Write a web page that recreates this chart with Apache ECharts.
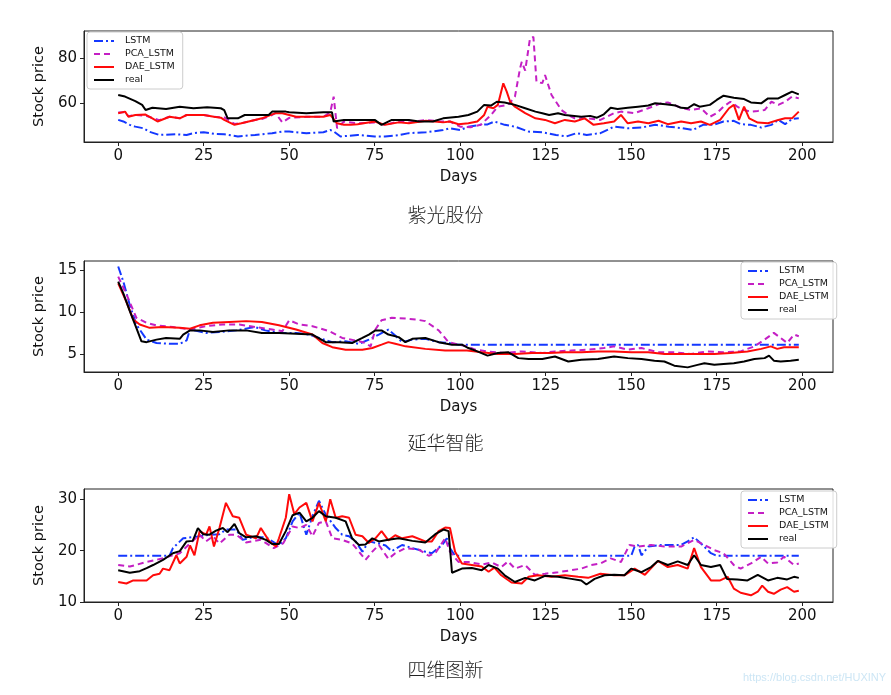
<!DOCTYPE html>
<html>
<head>
<meta charset="utf-8">
<title>Stock price</title>
<script src="https://cdn.jsdelivr.net/npm/echarts@6/dist/echarts.min.js"></script>
<style>
    html, body { margin: 0; padding: 0; background: #fff; }
    #chart { width: 891px; height: 695px; }
</style>
</head>
<body>
<div id="chart"></div>
<script>
// series names and panel captions
var seriesNames = ['LSTM', 'PCA_LSTM', 'DAE_LSTM', 'real']
var captions = ['紫光股份', '延华智能', '四维图新']
var dayTicks = [0, 25, 50, 75, 100, 125, 150, 175, 200]
var priceTicks = [[60, 80], [5, 10, 15], [10, 20, 30]]

// 紫光股份 [day, price]
var zgLstm = [[0,52.6],[1.5,51.9],[3.4,50.4],[5,49.6],[7.3,48.9],[9,47.4],[12,45.9],[17,46.2],[20,45.9],[22,46.7],[25,47.1],[28,46.4],[31,46.2],[35,45.2],[40,45.9],[45,46.7],[48,47.4],[50,47.4],[55,46.7],[60,47.1],[62,48.1],[63,47.5],[65,45.2],[70,45.9],[75,45.2],[78,45.2],[82,45.8],[85,46.7],[90,47.1],[95,48.1],[97,48.9],[100,48.1],[102.4,49.6],[106,50.4],[108,50.6],[110,51.9],[113,50.4],[116,49.6],[120,47.4],[124,47.1],[128,45.9],[131,45.2],[134,46.7],[137,45.9],[141,46.7],[145,49.6],[149,48.9],[153,49.2],[157,50.4],[161,49.6],[165,48.9],[168,48.1],[171,50.4],[174,50.4],[177,51.9],[180,52.2],[182,50.7],[185,50.4],[188,49.2],[191,50.4],[193,52.6],[195,50.7],[197,53],[199,53.3]]
var zgPca = [[0,55.9],[2,56],[3,54.2],[5,54.8],[8,54.5],[10,53.5],[12,52.5],[15,54],[18,53.3],[20,54.8],[25,54.8],[28,54],[31,53.7],[34,50.8],[36,51.1],[40,52.6],[42,53],[45,54.8],[46,55.6],[48,51.5],[50,53.5],[55,54],[60,54],[62,56],[63,63],[64,48.9],[66,51.9],[70,51.1],[75,51.5],[78,50.4],[82,51.9],[85,51.5],[90,52.6],[94,51.9],[97,51.9],[100,49.6],[103,49.3],[106,50.4],[109,54.8],[111,58.5],[114,59.3],[116,63],[117.5,75.6],[118,78.5],[119,74.6],[120.4,88.9],[121.4,89.6],[122.3,69.6],[124,69],[124.8,72.6],[126.7,63.7],[129.6,57],[131.6,54.8],[133.5,53.3],[137.4,53.3],[141,52.6],[145,55.6],[147,56.3],[151,55.6],[155,57.8],[158.7,60],[160.7,60.4],[164.6,58],[167.5,57],[170.4,57.8],[173,54],[175,55.6],[177,58.5],[179,60.7],[181,58.5],[183,57],[185,56.3],[187,56.6],[189,57],[191,60.7],[193,59.3],[195,60.7],[197,63],[199,62.2]]
var zgDae = [[0,55.6],[2,56.3],[3,54],[5,54.8],[8,55],[10,53.3],[11.5,51.9],[15,54],[18,53.3],[20,54.8],[25,54.8],[28,54],[30,53.6],[31,52.6],[34,50.4],[36,51.1],[40,52.6],[42,53.3],[46,55.6],[48,55.6],[50,54.8],[52,54],[55,54],[60,54],[62,54.8],[64,51.1],[66,50.4],[68,50.4],[70,50.7],[75,51.9],[78,50.4],[82,51.5],[85,51.1],[90,52.2],[95,51.5],[97,51.9],[99.5,50.7],[102.4,51.1],[105,51.9],[107,54.8],[108,58.5],[109.7,57.8],[111,59.3],[112.6,68.9],[113.6,65.2],[114.6,60.7],[116,58.5],[119,55.6],[122,53.3],[124.8,52.6],[127.7,51.1],[130.6,52.6],[133.5,51.9],[136.4,53.3],[139,50.4],[142,51.1],[145,51.9],[147,54.8],[149,51.1],[152,51.9],[155,51.1],[158,52.2],[160.7,50.7],[164.6,51.9],[167.5,51.1],[170.4,51.9],[173,50.4],[176,52.6],[178.6,57.8],[180,59.3],[181.5,52.6],[183,58.5],[184.5,53.3],[187,51.4],[190,51.1],[193,52.6],[195,53.3],[197,53.3],[199,56.3]]
var zgReal = [[0,63.7],[2,63],[5,61],[7,59.3],[8,57],[10,58],[14,57.5],[18,58.5],[22,57.8],[26,58.2],[30,57.8],[31,57],[32,53.3],[35,53.3],[37,54.8],[44,54.8],[45,56.3],[49,56.3],[50,56],[55,55.6],[60,56],[62.5,56],[63,51.9],[66,52.6],[70,52.6],[75,52.6],[77,50.4],[80,52.6],[85,52.6],[88,51.9],[92,51.9],[95,53.3],[99.5,54],[102.4,54.8],[105,56.3],[107,59.3],[109,59],[110.7,60.7],[113,60.4],[116,59.3],[119,57.8],[122,56.3],[124,55.6],[126,54.8],[128.6,55.6],[130.6,54.8],[135.4,54],[138,54.4],[140,53.6],[142,55.1],[144,58],[146,57.5],[149,58],[152,58.5],[155,59],[157,60],[160,59.6],[163,59],[164.6,58],[166.5,57.8],[168.4,59.6],[170,58.5],[173,59.3],[175,61.5],[177,63.4],[180,62.5],[183,61.9],[185,60.4],[188,60],[190,62.2],[193,62.2],[195,63.7],[197,65.2],[199,64]]

// 延华智能 [day, price]
var yhLstm = [[0,15.4],[1.5,13.6],[3.4,10.8],[5.3,8.5],[8.3,6.7],[11.2,6.3],[15,6.2],[18,6.2],[20,6.6],[21,7.9],[25.7,7.5],[29.6,7.6],[34.5,7.8],[40,8.2],[43,7.8],[47,7.5],[52,7.5],[55.8,7.3],[58.7,6.9],[62.6,6.4],[66.5,6.5],[70.4,6.2],[73.3,6.7],[76.2,7.3],[79,7.9],[81,7.2],[83,6.4],[86,6.7],[89.8,6.8],[93.7,6.4],[96.6,6.3],[99.5,6.1],[150,6.1],[199,6.1]]
var yhPca = [[0,14.2],[2.4,12.1],[5.3,9.3],[8.3,8.7],[11.2,8.4],[16,8.2],[21,7.9],[25.7,8.3],[30.6,8.5],[35.4,8.5],[40,8.2],[45,7.9],[48,7.7],[50,9.0],[53,8.5],[56.8,8.3],[61.7,7.7],[65.5,6.9],[69.4,6.6],[72.3,6.3],[73.8,5.9],[75.2,7.9],[77,9.0],[80,9.3],[84,9.2],[87,9.1],[89.8,8.9],[93.7,7.8],[96.6,6.4],[99.5,6.1],[102,5.9],[104.4,5.5],[108,5.3],[113,5.1],[118,5.3],[124,5.1],[127.7,5.3],[132.5,5.4],[137.4,5.5],[142,5.7],[145,5.9],[149,5.5],[153,5.7],[157.8,5.2],[162.6,5.2],[167.5,5.0],[172.3,5.3],[177,5.2],[182,5.3],[186,5.9],[189,6.7],[191.7,7.5],[193.7,6.9],[195.6,6.3],[197.6,7.3],[199,7.1]]
var yhDae = [[0,13.4],[2.4,11.2],[4.4,9.1],[6.3,8.5],[9.2,8.1],[13,8.2],[18,8.1],[21,8.0],[23.8,8.4],[27.7,8.7],[32.5,8.8],[37.4,8.9],[42,8.8],[47,8.4],[52,7.9],[56.8,7.3],[59.7,6.3],[62.6,5.8],[66.5,5.5],[71.4,5.5],[74.3,5.7],[77,6.1],[79,6.4],[81,6.2],[84,5.9],[89.8,5.6],[95.6,5.4],[102,5.4],[106.3,5.2],[111,5.0],[116,5.0],[121,5.1],[126,5.1],[130.6,5.2],[135.4,5.2],[140.3,5.3],[145,5.3],[150,5.2],[155,5.2],[159.7,5.0],[164.6,5.0],[169.4,5.0],[174.3,5.0],[179,5.1],[184,5.3],[188,5.6],[190.8,5.9],[192.7,5.6],[194.7,5.8],[199,5.8]]
var yhReal = [[0,13.6],[1.5,12.2],[3.4,10.1],[5.3,8.1],[6.8,6.5],[8.3,6.4],[11.2,6.7],[14,6.9],[18,6.8],[19,7.3],[21,7.8],[23.8,7.8],[27.7,7.6],[32.5,7.8],[37.4,7.8],[42,7.5],[47,7.5],[52,7.4],[56.8,7.3],[60.7,6.4],[64.6,6.4],[68.4,6.3],[71.4,6.9],[73.3,7.3],[75.2,7.8],[77,7.8],[79,7.3],[82,7.0],[84,6.4],[86,6.8],[89.8,6.9],[93.7,6.4],[97.6,6.1],[100.5,6.1],[102.4,5.7],[105,5.3],[108,4.8],[111,5.1],[114,5.2],[117,4.5],[120,4.4],[124,4.4],[127.7,4.7],[131.6,4.1],[135.4,4.3],[140.3,4.4],[145,4.7],[149,4.5],[153,4.4],[156.8,4.2],[159.7,4.1],[162.6,3.6],[166.5,3.4],[169.4,3.7],[171.4,3.9],[174.3,3.7],[177,3.8],[180,3.9],[183,4.1],[186,4.4],[189,4.5],[190.3,4.8],[191.7,4.2],[193.7,4.1],[196.6,4.2],[199,4.3]]

// 四维图新 [day, price]
var swLstm = [[0,19],[15,19],[16,20.5],[19,22.4],[22.8,22.7],[26.7,23.1],[29.6,23.2],[31.5,24.1],[34.5,24.1],[36.4,22.1],[39.3,22.6],[43.2,22.6],[47,21],[49,22.4],[51,25.7],[53,27.4],[55,23.1],[56.8,26.7],[58.7,29.7],[60.7,27],[63.6,24.4],[65.5,23.1],[67.5,22.8],[69.4,21.8],[71.4,19.8],[73.3,21.8],[76.2,21.4],[78.2,21],[80,19.9],[83,21.1],[86,20.5],[89.8,19.8],[91.7,19.5],[94.7,21.1],[96.1,22.4],[97,20.5],[98.5,19],[150,19],[151,20.8],[152,21.1],[153,19.1],[155,20.8],[158.7,21.1],[164.6,21.1],[166.5,21.8],[168.4,22.6],[170.4,21.4],[173.3,19.5],[175,19],[199,19]]
var swPca = [[0,17.2],[3.4,16.9],[8.3,17.8],[13.1,18.5],[18,19.5],[21,21.4],[23.8,23.1],[25.7,21.8],[27.7,22.8],[29.6,21.4],[32.5,23.1],[34.5,23.1],[37.4,21.6],[41.7,22.1],[45.5,20.5],[48.2,21.4],[51,24.7],[53,24.4],[55,25],[56.8,22.8],[58.7,25.4],[60.7,25.7],[62.6,22.4],[65.5,22.1],[68.4,21.4],[70.4,19.8],[72.3,18.2],[74.3,19.8],[76.2,21.1],[79,18.4],[81,19.5],[84,20.5],[87.9,20.2],[90.8,19],[92.7,19.5],[95.6,22.4],[97,19.8],[99.5,17.8],[102.4,17.8],[106.3,17.3],[109.2,17.7],[112,16.8],[114,17.9],[116,16.5],[119,17.2],[121.8,15.3],[124.8,15.5],[128.6,15.8],[132.5,16.2],[135.4,16.5],[138.3,17.2],[141,17.5],[144,18.5],[147,17.8],[149.5,21.1],[152,20.8],[155.8,21.1],[159.7,20.8],[164.6,20.8],[168.4,22.1],[171.4,21.1],[174.3,20.1],[177,19.5],[180,17.2],[182,16.5],[185,17.5],[188,18.8],[190,17.5],[192.7,17.7],[194.7,18.8],[197.6,17.2],[199,17.5]]
var swDae = [[0,13.9],[2.4,13.6],[4.4,14.2],[8.3,14.2],[10.2,15.2],[12.1,15.5],[13.1,16.5],[15,16.2],[17,19.1],[18,17.5],[20,18.8],[21,21],[22.3,19.1],[23.8,23.8],[25.7,23.1],[26.7,24.7],[28,20.8],[29.6,24.4],[31.5,29.3],[33.5,26.7],[35.4,26.4],[37.4,23.1],[40.3,22.4],[41.7,24.4],[44.2,21.8],[46.1,20.8],[47,22.4],[49,26.4],[50,31],[51.5,27.1],[53,28.4],[55,29.3],[56.8,25.7],[58.7,29.3],[60.7,25.7],[62,30],[63.6,26.4],[65.5,26.7],[67.5,26.4],[69.4,23.1],[71.4,22.8],[73.3,21.5],[75.2,22.4],[77,23.8],[79,22],[81,23],[83,22.4],[86,22.8],[89.8,21.8],[91.7,21.8],[93.7,23.8],[95.6,24.5],[97,24.4],[98.5,19.8],[100.5,17.5],[103.4,17.2],[106.3,16.9],[108.3,15.9],[110,16.7],[112,15.2],[115,13.8],[118,13.6],[120,14.9],[122.8,15.2],[126.7,14.9],[130.6,15.2],[134.5,14.9],[137.4,14.7],[141,15.5],[145,15.2],[148,15.2],[151,16.5],[154,15.3],[157.8,18],[160.7,16.8],[163.6,17.2],[166.5,16.5],[168.4,20.5],[170.4,16.8],[173.3,14.2],[176,14.2],[178.2,14.9],[180,12.6],[182,11.8],[185,11.3],[187,12],[188.3,13.2],[190,12],[191.7,11.6],[193.7,12.4],[195.6,12.9],[197.6,12],[199,12.2]]
var swReal = [[0,16.2],[3.4,15.7],[6.3,16],[8.3,16.6],[10.2,17.2],[13.1,18.2],[16,19.5],[18,19.9],[20,21.8],[21.8,21.9],[23.3,24.4],[24.8,23.2],[26.7,23.1],[28.6,23.9],[30.6,24.4],[32,23.6],[34,25.2],[35.4,23.4],[37.4,22.6],[40.3,22.8],[43.2,22.1],[45,21.3],[47,21.3],[49,23.8],[51,26.9],[53,27.4],[55,25.7],[56.8,26.4],[58.7,27.7],[60.7,26.7],[63.6,26.4],[66.5,25.7],[68.4,22.4],[70.4,21.1],[72.3,21.2],[74.3,22.4],[76.2,21.8],[79,22.1],[82,22.4],[86,21.9],[89.8,21.6],[92.7,23.2],[95.1,24.1],[96.6,23.8],[97.6,15.7],[100.5,16.5],[103.4,16.6],[106.3,16.2],[108.3,17.2],[111,16.5],[113,15.2],[116,13.9],[119,14.7],[121.8,14.2],[124.8,15.1],[128.6,14.9],[132.5,14.5],[135.4,14.2],[136.9,13.4],[139.3,14.5],[142.2,15.2],[145,15.3],[148,15.2],[150,16.5],[153,15.8],[155.8,16.8],[157.8,18],[160.7,17.2],[163.6,17.9],[166.5,17.2],[168.4,19.1],[170.4,17.2],[173.3,16.8],[176,17.2],[178,14.5],[181,14.4],[184,14.2],[187,15.3],[190,14.2],[192.7,14.7],[195.6,14.4],[197.6,14.9],[199,14.7]]

var panels = [
    [zgLstm, zgPca, zgDae, zgReal],
    [yhLstm, yhPca, yhDae, yhReal],
    [swLstm, swPca, swDae, swReal]
]

// layout of the three subplots (px)
var gridTops = [31, 261, 489]
var gridHeights = [111, 111, 113]
var yRanges = [[42.75, 92.25], [2.85, 16.05], [10, 32]]
var legendPos = [{ left: 87, top: 32 }, { left: 741, top: 262 }, { left: 741, top: 491 }]
var captionY = [215, 443, 670]

var lineStyles = [
    { color: '#1438ff', width: 2, type: [9, 3, 2, 3] },
    { color: '#c41fc4', width: 2, type: [6, 4] },
    { color: '#ff0a0a', width: 2, type: 'solid' },
    { color: '#000000', width: 2, type: 'solid' }
]
var font = 'DejaVu Sans'

var myChart = echarts.init(document.getElementById('chart'), null, { renderer: 'canvas' })

var grid = []
var xAxis = []
var yAxis = []
var legend = []
var series = []
var graphic = []

panels.forEach(function (panel, i) {
    grid.push({
        left: 84,
        right: 58,
        top: gridTops[i],
        height: gridHeights[i],
        show: true,
        borderColor: '#222',
        borderWidth: 1,
        backgroundColor: '#fff'
    })
    xAxis.push({
        type: 'value',
        gridIndex: i,
        min: -10,
        max: 209,
        name: 'Days',
        nameLocation: 'middle',
        nameGap: 28,
        nameTextStyle: { fontFamily: font, fontSize: 15, color: '#111' },
        axisLine: { show: true, onZero: false, lineStyle: { color: '#222' } },
        axisTick: { show: true, length: 4, customValues: dayTicks, lineStyle: { color: '#222' } },
        axisLabel: { customValues: dayTicks, margin: 7, fontFamily: font, fontSize: 15, color: '#111' },
        splitLine: { show: false }
    })
    yAxis.push({
        type: 'value',
        gridIndex: i,
        min: yRanges[i][0],
        max: yRanges[i][1],
        name: 'Stock price',
        nameLocation: 'middle',
        nameGap: 37,
        nameTextStyle: { fontFamily: font, fontSize: 14.5, color: '#111' },
        axisLine: { show: true, onZero: false, lineStyle: { color: '#222' } },
        axisTick: { show: true, length: 4, customValues: priceTicks[i], lineStyle: { color: '#222' } },
        axisLabel: { customValues: priceTicks[i], margin: 7, fontFamily: font, fontSize: 15, color: '#111' },
        splitLine: { show: false }
    })
    legend.push({
        data: seriesNames,
        orient: 'vertical',
        left: legendPos[i].left,
        top: legendPos[i].top,
        itemWidth: 20,
        itemHeight: 8,
        itemGap: 3,
        padding: [4, 8, 4, 6],
        backgroundColor: 'rgba(255,255,255,0.85)',
        borderColor: '#ccc',
        borderWidth: 1,
        borderRadius: 3,
        itemStyle: { opacity: 0 },
        textStyle: { fontFamily: font, fontSize: 9.5, color: '#111', padding: [0, 0, 0, 6] }
    })
    panel.forEach(function (data, k) {
        series.push({
            name: seriesNames[k],
            type: 'line',
            xAxisIndex: i,
            yAxisIndex: i,
            data: data,
            symbol: 'none',
            animation: false,
            lineStyle: lineStyles[k],
            itemStyle: { color: lineStyles[k].color }
        })
    })
    // 股票名称
    graphic.push({
        type: 'text',
        left: 'center',
        top: captionY[i] - 10,
        style: { text: captions[i], fontFamily: 'Noto Sans CJK SC', fontSize: 19, fontWeight: 300, fill: '#222' }
    })
})

// watermark
graphic.push({
    type: 'text',
    left: 743,
    top: 672,
    style: { text: 'https://blog.csdn.net/HUXINY', fontFamily: 'Liberation Sans', fontSize: 11, fill: '#cde6f5' }
})

myChart.setOption({
    animation: false,
    grid: grid,
    xAxis: xAxis,
    yAxis: yAxis,
    legend: legend,
    series: series,
    graphic: graphic
})
</script>
</body>
</html>
